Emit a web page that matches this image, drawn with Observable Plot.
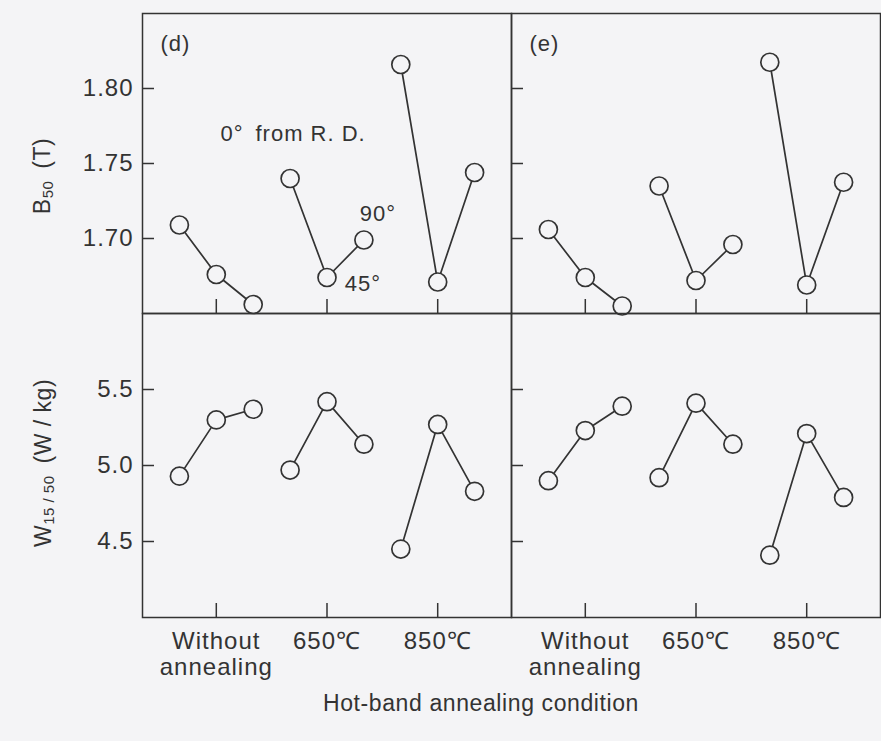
<!DOCTYPE html>
<html><head><meta charset="utf-8">
<script src="https://cdn.jsdelivr.net/npm/d3@7"></script>
<script src="https://cdn.jsdelivr.net/npm/@observablehq/plot@0.6"></script>
<style>
html,body{margin:0;padding:0;background:#f4f4f6;overflow:hidden;}
#chart{position:relative;width:881px;height:741px;font-family:"Liberation Sans",Arial,sans-serif;color:#333;}
#chart svg{position:absolute;left:0;display:block;}
.ytitle{position:absolute;transform:translate(-50%,-50%) rotate(-90deg);white-space:nowrap;font-size:23px;letter-spacing:0.5px;}
.ytitle sub{font-size:15px;vertical-align:-3px;}
.xtitle{position:absolute;transform:translate(-50%,-50%);white-space:nowrap;font-size:23px;letter-spacing:0.6px;}
</style></head><body><div id="chart"></div>
<script>
// ---- data ----
const conditions = ["Without\nannealing", "650℃", "850℃"];
const angles = [0, 45, 90];
const panels = ["(d)", "(e)"];
// B50 (T): rows = condition, columns = angle from R.D.
const b50_d = [[1.709, 1.676, 1.656], [1.740, 1.674, 1.699], [1.816, 1.671, 1.744]];
const b50_e = [[1.706, 1.674, 1.655], [1.735, 1.672, 1.696], [1.8175, 1.669, 1.7375]];
// W15/50 (W/kg)
const w1550_d = [[4.93, 5.30, 5.37], [4.97, 5.42, 5.14], [4.45, 5.27, 4.83]];
const w1550_e = [[4.90, 5.23, 5.39], [4.92, 5.41, 5.14], [4.41, 5.21, 4.79]];
const b50Ticks = [1.70, 1.75, 1.80];
const w1550Ticks = [4.5, 5.0, 5.5];
const annotationText = ["0°\u2002from R. D.", "90°", "45°"];
const annotationAngle = [0, 90, 45];

// ---- helpers ----
const xPos = (ci, angle) => ci + 1 + (angle - 45) / 135;
function rows(dVals, eVals) {
  const out = [];
  [[panels[0], dVals], [panels[1], eVals]].forEach(([p, vals]) => {
    vals.forEach((vs, ci) => vs.forEach((v, ai) => out.push({panel: p, cond: ci, angle: angles[ai], value: v})));
  });
  return out;
}
const INK = "#333";
const BG = "#f4f4f6";
const W = 881, ML = 142, MR = 1;
const panelW = (W - ML - MR) / 2;
const FONT = '"Liberation Sans", Arial, sans-serif';

function makeRow({data, yDomain, yTicks, yFormat, height, marginTop, marginBottom, bottom, extra = []}) {
  const ph = height - marginTop - marginBottom;
  return Plot.plot({
    width: W, height, marginLeft: ML, marginRight: MR, marginTop, marginBottom,
    style: {background: "transparent", fontFamily: FONT, fontSize: "23px", color: INK, overflow: "visible", letterSpacing: "1px"},
    fx: {domain: panels, padding: 0, axis: null},
    x: bottom ? {domain: [1/3, 11/3]} : {domain: [1/3, 11/3], axis: null},
    y: {domain: yDomain},
    marks: [
      Plot.frame({stroke: INK, strokeWidth: 1.5}),
      Plot.tickY(yTicks, {y: d => d, stroke: INK, strokeWidth: 1.5, insetRight: panelW - 12}),
      Plot.tickX([1, 2, 3], {x: d => d, stroke: INK, strokeWidth: 1.5, insetTop: ph - 14}),
      Plot.axisY(yTicks, {tickSize: 0, tickPadding: 9, tickFormat: yFormat, fontSize: 24, fill: INK, label: null}),
      bottom ? Plot.axisX([1, 2, 3], {tickSize: 0, tickPadding: 12, tickFormat: d => conditions[d - 1], lineHeight: 1.12, fontSize: 24, fill: INK, label: null}) : null,
      Plot.line(data, {x: d => xPos(d.cond, d.angle), y: "value", z: "cond", fx: "panel", stroke: INK, strokeWidth: 1.7}),
      Plot.dot(data, {x: d => xPos(d.cond, d.angle), y: "value", fx: "panel", r: 9, fill: BG, stroke: INK, strokeWidth: 1.7}),
      ...extra
    ]
  });
}

const topData = rows(b50_d, b50_e);
const botData = rows(w1550_d, w1550_e);

const annOffsets = [{dx: 3, dy: -45}, {dx: 14, dy: -26}, {dx: 36, dy: 6}];
const annMarks = annotationText.map((t, i) => {
  const ai = angles.indexOf(annotationAngle[i]);
  return Plot.text([{panel: panels[0], cond: 1, angle: annotationAngle[i], value: b50_d[1][ai], text: t}], {
    fx: "panel", x: d => xPos(d.cond, d.angle), y: "value", text: "text",
    fontSize: 22, fill: INK, ...annOffsets[i]
  });
});
const panelLabels = Plot.text(panels, {fx: d => d, text: d => d, frameAnchor: "top-left", dx: 18, dy: 22, fontSize: 22, fill: INK});

const topRow = makeRow({
  data: topData, yDomain: [1.65, 1.85], yTicks: b50Ticks, yFormat: d3.format(".2f"),
  height: 313, marginTop: 13, marginBottom: 0, bottom: false,
  extra: [panelLabels, ...annMarks]
});
const botRow = makeRow({
  data: botData, yDomain: [4.0, 6.0], yTicks: w1550Ticks, yFormat: d3.format(".1f"),
  height: 428, marginTop: 0, marginBottom: 124, bottom: true
});

const chart = document.getElementById("chart");
topRow.style.top = "0px";
botRow.style.top = "313px";
chart.appendChild(topRow);
chart.appendChild(botRow);

const yt1 = document.createElement("div");
yt1.className = "ytitle"; yt1.style.left = "42px"; yt1.style.top = "176px";
yt1.innerHTML = "B<sub>50</sub>&ensp;(T)";
const yt2 = document.createElement("div");
yt2.className = "ytitle"; yt2.style.left = "43px"; yt2.style.top = "463px";
yt2.innerHTML = "W<sub>15 / 50</sub>&ensp;(W / kg)";
const xt = document.createElement("div");
xt.className = "xtitle"; xt.style.left = "481px"; xt.style.top = "703px";
xt.textContent = "Hot-band annealing condition";
chart.append(yt1, yt2, xt);
</script>
</body></html>
